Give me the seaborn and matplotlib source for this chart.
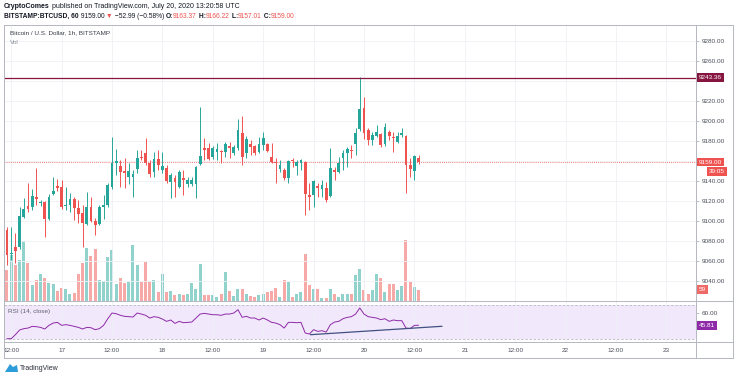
import numpy as np
import pandas as pd
import matplotlib
matplotlib.use("Agg")
import matplotlib.pyplot as plt
from matplotlib.lines import Line2D
from matplotlib.patches import Polygon
import seaborn as sns

# --- dados (BTCUSD 1h, Bitstamp) ---
start_time = "2020-07-16 11:00"
opens = [9091, 9067, 9074, 9074, 9104, 9115, 9114, 9124, 9118, 9119,
         9102, 9127, 9135, 9134, 9115, 9116, 9122, 9113, 9108, 9097,
         9114, 9100, 9097, 9114, 9116, 9134, 9158, 9155, 9150, 9144,
         9144, 9152, 9164, 9168, 9158, 9149, 9162, 9151, 9153, 9139,
         9143, 9134, 9143, 9137, 9137, 9137, 9157, 9173, 9173, 9164,
         9169, 9170, 9169, 9175, 9168, 9173, 9188, 9168, 9177, 9175,
         9169, 9176, 9177, 9164, 9159, 9152, 9151, 9143, 9161, 9155,
         9158, 9159, 9126, 9126, 9135, 9132, 9133, 9125, 9151, 9149,
         9163, 9168, 9171, 9177, 9192, 9213, 9191, 9181, 9185, 9187,
         9177, 9189, 9184, 9179, 9186, 9185, 9156, 9150, 9163.37]
highs = [9094, 9094, 9088, 9114, 9123, 9138, 9132, 9153, 9121, 9120,
         9127, 9144, 9142, 9141, 9134, 9128, 9124, 9121, 9116, 9129,
         9124, 9103, 9116, 9126, 9138, 9184, 9172, 9161, 9163, 9158,
         9151, 9171, 9171, 9183, 9161, 9169, 9171, 9169, 9156, 9148,
         9146, 9151, 9151, 9144, 9144, 9155, 9214, 9183, 9178, 9175,
         9178, 9171, 9179, 9179, 9176, 9202, 9205, 9185, 9181, 9176,
         9184, 9189, 9178, 9178, 9163, 9161, 9153, 9161, 9163, 9161,
         9162, 9160, 9138, 9141, 9138, 9141, 9139, 9173, 9154, 9164,
         9171, 9174, 9176, 9193, 9244, 9224, 9193, 9189, 9196, 9188,
         9198, 9191, 9189, 9189, 9193, 9186, 9163, 9166, 9166.22]
lows = [9056, 9061, 9058, 9072, 9103, 9109, 9111, 9116, 9115, 9084,
        9101, 9126, 9130, 9112, 9111, 9109, 9101, 9098, 9074, 9096,
        9099, 9086, 9096, 9102, 9114, 9132, 9146, 9134, 9133, 9137,
        9124, 9148, 9161, 9156, 9144, 9144, 9151, 9148, 9138, 9123,
        9124, 9133, 9126, 9134, 9135, 9123, 9156, 9161, 9161, 9162,
        9161, 9158, 9164, 9163, 9166, 9171, 9156, 9163, 9166, 9166,
        9168, 9171, 9169, 9158, 9138, 9149, 9141, 9138, 9154, 9146,
        9151, 9106, 9111, 9114, 9124, 9124, 9119, 9124, 9141, 9148,
        9151, 9154, 9163, 9166, 9190, 9182, 9176, 9176, 9184, 9174,
        9175, 9181, 9169, 9178, 9184, 9128, 9144, 9141, 9157.01]
closes = [9066, 9068, 9070, 9105, 9112, 9112, 9125, 9122, 9119, 9102,
          9124, 9130, 9133, 9114, 9116, 9122, 9113, 9107, 9098, 9114,
          9100, 9096, 9114, 9116, 9136, 9158, 9160, 9149, 9148, 9150,
          9147, 9163, 9163, 9158, 9147, 9162, 9156, 9155, 9140, 9146,
          9139, 9149, 9141, 9141, 9141, 9154, 9165, 9171, 9162, 9173,
          9172, 9169, 9177, 9173, 9174, 9191, 9164, 9182, 9174, 9168,
          9177, 9183, 9170, 9159, 9158, 9156, 9143, 9160, 9160, 9159,
          9161, 9127, 9124, 9140, 9133, 9136, 9121, 9153, 9149, 9158,
          9168, 9172, 9170, 9188, 9212, 9188, 9181, 9186, 9189, 9176,
          9194, 9185, 9183, 9185, 9188, 9156, 9152, 9165, 9159.00]
volumes = [163, 242, 189, 216, 316, 201, 83, 113, 141, 123,
           95, 88, 53, 69, 64, 39, 42, 141, 203, 282,
           237, 276, 113, 104, 233, 272, 92, 123, 95, 101,
           298, 192, 101, 207, 101, 113, 48, 141, 48, 53,
           30, 39, 30, 39, 97, 65, 198, 30, 30, 30,
           21, 39, 154, 51, 25, 65, 65, 39, 25, 21,
           30, 36, 48, 53, 70, 21, 110, 101, 21, 36,
           48, 248, 83, 65, 65, 17, 17, 65, 36, 21,
           39, 39, 36, 136, 170, 57, 36, 60, 145, 122,
           48, 92, 92, 57, 81, 322, 101, 74, 59]
rsi = [30.0, 30.0, 34.7, 40.2, 41.8, 42.5, 44.5, 44.1, 43.3, 41.4,
       45.7, 48.4, 49.2, 45.7, 46.5, 45.7, 44.5, 43.3, 41.4, 43.3,
       42.9, 40.6, 41.8, 45.7, 53.5, 60.2, 59.4, 57.5, 56.3, 55.9,
       55.5, 60.2, 59.0, 57.5, 54.3, 55.9, 55.1, 53.1, 50.4, 52.0,
       48.0, 50.4, 48.8, 49.2, 49.6, 54.3, 59.0, 59.8, 59.0, 58.2,
       58.2, 57.5, 59.0, 59.0, 60.2, 64.1, 55.1, 56.3, 54.3, 54.3,
       52.0, 54.3, 52.0, 49.2, 48.4, 46.5, 42.5, 49.2, 49.2, 48.8,
       49.2, 36.7, 35.5, 40.6, 38.6, 39.4, 37.8, 46.5, 49.6, 50.4,
       53.5, 55.1, 55.9, 59.0, 66.1, 59.0, 55.9, 55.1, 54.3, 52.4,
       53.5, 50.4, 52.0, 51.2, 51.2, 42.5, 41.8, 45.7, 45.81]

# linha de tendencia desenhada no RSI
trend_times = ["2020-07-19 11:15", "2020-07-20 18:35"]
trend_vals = [34.7, 44.6]

hline_price = 9243.36
last_price = 9159.00
price_ticks = list(range(9040, 9281, 20))
hidden_ticks = [9160, 9240]  # cobertos pelas etiquetas de preco
time_tick_times = pd.date_range("2020-07-16 12:00", periods=14, freq="12h")
time_tick_labels = ["12:00", "17", "12:00", "18", "12:00", "19", "12:00",
                    "20", "12:00", "21", "12:00", "22", "12:00", "23"]

UP, DOWN = "#26a69a", "#ef5350"
VUP, VDOWN = "#92d2cc", "#f7a9a7"
GRID = "#eef0f5"
FRAME = "#b4b7c0"
TXT = "#4a4e59"

t0 = pd.Timestamp(start_time)
times = pd.date_range(start_time, periods=len(closes), freq="h")


def to_hours(t):
    return (pd.to_datetime(t) - t0) / pd.Timedelta(hours=1)


df = pd.DataFrame({"x": to_hours(times), "o": opens, "h": highs, "l": lows,
                   "c": closes, "vol": volumes, "rsi": rsi})
df["dir"] = np.where(df["c"] >= df["o"], "up", "down")
df["col"] = np.where(df["dir"] == "up", UP, DOWN)

sns.set_theme(style="white")
plt.rcParams["font.family"] = ["Liberation Sans", "DejaVu Sans"]

W, H = 736, 379
fig = plt.figure(figsize=(W / 100, H / 100), dpi=100)
fig.patch.set_facecolor("white")


def rect(x0, y0, x1, y1):
    return [x0 / W, 1 - y1 / H, (x1 - x0) / W, (y1 - y0) / H]


xlim = (-0.71, 164.05)
tick_x = to_hours(time_tick_times)

# volume (atras dos candles)
vax = fig.add_axes(rect(4, 25, 696, 301))
vax.set_zorder(1)
vax.bar(df["x"], df["vol"], width=0.72,
        color=np.where(df["dir"] == "up", VUP, VDOWN), linewidth=0)
vax.set_xlim(*xlim)
vax.set_ylim(0, 1463)
vax.axis("off")

# precos
ax = fig.add_axes(rect(4, 25, 696, 301))
ax.set_zorder(2)
ax.patch.set_visible(False)
ax.vlines(df["x"], df["l"], df["h"], colors=df["col"], lw=0.7, zorder=3)
body_h = np.maximum((df["c"] - df["o"]).abs(), 0.8)
ax.bar(df["x"], body_h, bottom=np.minimum(df["o"], df["c"]), width=0.7,
       color=df["col"], linewidth=0, zorder=4)
ax.axhline(hline_price, color="#86163f", lw=0.9, zorder=5)
ax.axhline(last_price, color=DOWN, lw=0.6, ls=(0, (1, 1.5)), zorder=2)
ax.set_xlim(*xlim)
ax.set_ylim(9020, 9296)
ax.set_yticks(price_ticks)
ax.set_yticklabels(["" if p in hidden_ticks else f"{p:.2f}" for p in price_ticks])
ax.yaxis.tick_right()
ax.set_xticks(tick_x)
ax.set_xticklabels([])
ax.tick_params(axis="x", length=0)
ax.tick_params(axis="y", length=2.5, width=0.6, color=FRAME, pad=1.5,
               labelsize=4.6, labelcolor=TXT)
ax.grid(True, color=GRID, lw=0.6)
for s in ax.spines.values():
    s.set_visible(False)

ax.text(0.0087, 0.971, "Bitcoin / U.S. Dollar, 1h, BITSTAMP", transform=ax.transAxes,
        fontsize=4.6, color="#3a3e48", va="center")
ax.text(0.0087, 0.938, "Vol", transform=ax.transAxes, fontsize=4.6,
        color="#8a8e99", va="center")


def axis_label(axis, yval, txt, bg, dx=2, dy=0):
    axis.annotate(txt, xy=(1, yval), xycoords=axis.get_yaxis_transform(),
                  xytext=(dx, dy), textcoords="offset points", ha="left", va="center",
                  fontsize=4.6, color="white", zorder=10, annotation_clip=False,
                  bbox=dict(boxstyle="square,pad=0.3", fc=bg, ec="none"))


axis_label(ax, hline_price, f"{hline_price:.2f}", "#86163f")
axis_label(ax, last_price, f"{last_price:.2f}", DOWN)
axis_label(ax, last_price, "39:05", DOWN, dx=9.5, dy=-7)
axis_label(vax, volumes[-1], f"{volumes[-1]}", "#ef6a67")

# RSI
rax = fig.add_axes(rect(4, 301, 696, 342))
rax.axhspan(30, 70, color="#f2e8fc", lw=0, zorder=0)
rax.axhline(70, color="#b9b9c6", lw=0.6, ls=(0, (3, 2)), zorder=1)
rax.axhline(30, color="#b9b9c6", lw=0.6, ls=(0, (3, 2)), zorder=1)
sns.lineplot(data=df, x="x", y="rsi", color="#8e2aa8", lw=0.7, ax=rax, zorder=3)
rax.plot(to_hours(trend_times), trend_vals, color="#40507f", lw=0.9, zorder=4)
rax.set_xlim(*xlim)
rax.set_ylim(26.1, 74.35)
rax.set_yticks([60])
rax.set_yticklabels(["60.00"])
rax.yaxis.tick_right()
rax.set_xticks(tick_x)
rax.set_xticklabels(time_tick_labels)
rax.tick_params(axis="both", length=2.5, width=0.6, color=FRAME, pad=1.5,
                labelsize=4.6, labelcolor=TXT)
rax.tick_params(axis="x", pad=2)
rax.grid(True, axis="x", color=GRID, lw=0.6)
for s in rax.spines.values():
    s.set_visible(False)
rax.set_xlabel("")
rax.set_ylabel("")
rax.text(0.0058, 0.756, "RSI (14, close)", transform=rax.transAxes, fontsize=4.6,
         color="#5d616c", va="center")
axis_label(rax, rsi[-1], f"{rsi[-1]:.2f}", "#8e2aa8")

# moldura estilo TradingView
for (x0, y0, x1, y1) in [(4, 25, 733, 25), (4, 301, 733, 301), (4, 342, 733, 342),
                         (4, 358, 733, 358), (4, 25, 4, 358), (733, 25, 733, 358),
                         (696, 25, 696, 358)]:
    fig.add_artist(Line2D([x0 / W, x1 / W], [1 - y0 / H, 1 - y1 / H],
                          color=FRAME, lw=0.7, transform=fig.transFigure, zorder=20))

# cabecalho
renderer = fig.canvas.get_renderer()


def pieces(xpx, ypx, parts, size):
    xf = xpx / W
    for txt, color, weight in parts:
        t = fig.text(xf, 1 - ypx / H, txt, color=color, fontsize=size,
                     fontweight=weight, va="center", ha="left")
        xf += t.get_window_extent(renderer=renderer).width / fig.bbox.width


DARK = "#131722"
pieces(4, 7, [("CryptoComes", DARK, "bold"),
              (" published on TradingView.com, July 20, 2020 13:20:58 UTC", DARK, "normal")], 5)
pieces(4, 16, [("BITSTAMP:BTCUSD, 60", DARK, "bold"),
               (" 9159.00 ", DARK, "normal"), ("▼", DOWN, "normal"),
               (" \u221252.99 (\u22120.58%) ", DARK, "normal"),
               ("O:", DARK, "bold"), ("9163.37", DOWN, "normal"),
               (" H:", DARK, "bold"), ("9166.22", DOWN, "normal"),
               (" L:", DARK, "bold"), ("9157.01", DOWN, "normal"),
               (" C:", DARK, "bold"), ("9159.00", DOWN, "normal")], 4.8)

# logo
fig.add_artist(Polygon([[5 / W, 1 - 372 / H], [10 / W, 1 - 364 / H], [13 / W, 1 - 367 / H],
                        [17 / W, 1 - 365 / H], [18 / W, 1 - 372 / H]],
                       closed=True, fc="#2d9cdb", ec="none", transform=fig.transFigure))
fig.text(20 / W, 1 - 369 / H, "TradingView", fontsize=5, color="#2a2e39", va="center")

fig.savefig("out.png", dpi=100)
